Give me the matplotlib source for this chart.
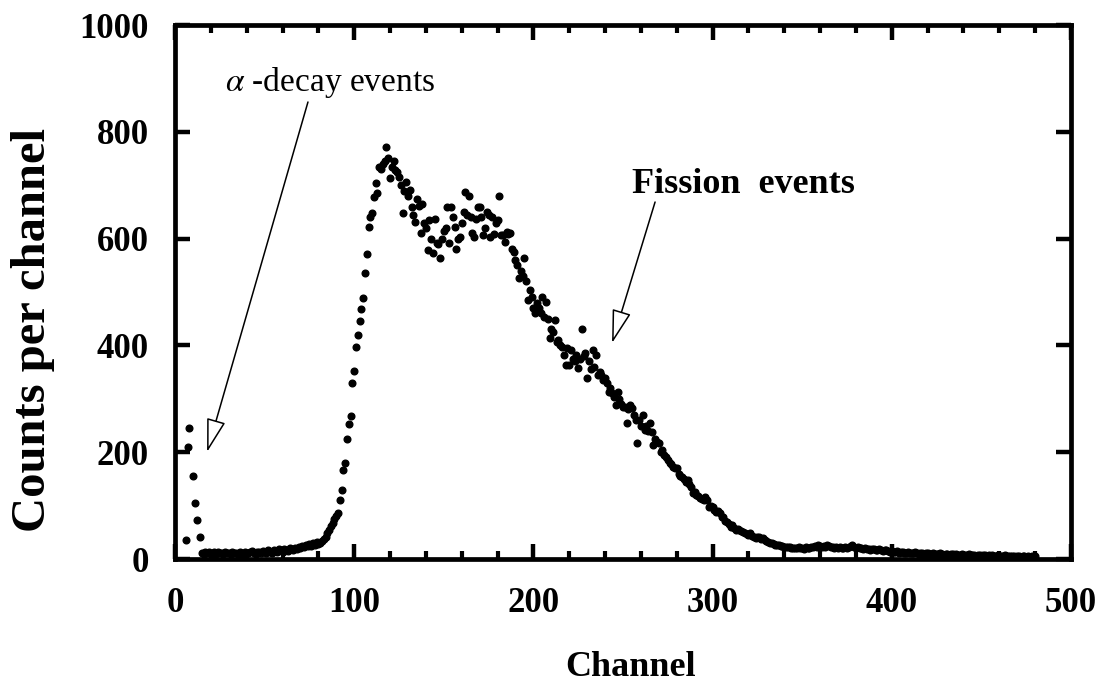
import numpy as np
import matplotlib
matplotlib.use("Agg")
import matplotlib.pyplot as plt
from matplotlib.patches import FancyArrowPatch
from matplotlib.ticker import MultipleLocator

plt.rcParams['font.family'] = ['Liberation Serif', 'DejaVu Serif']
plt.rcParams['mathtext.fontset'] = 'stix'

# ---- data ----
alpha_channels = [6, 7, 8, 10, 11, 12, 14]
alpha_counts = [36, 210, 245, 155, 105, 73, 41]

base_start = 15
base_counts = [12, 10, 14, 11, 13, 9, 12, 14, 10, 13, 11, 12, 9, 13, 11, 12, 10, 14, 11, 12,
               9, 13, 12, 10, 14, 12, 11, 13, 15, 12, 10, 14, 13, 11, 15, 13, 12, 16, 14, 12,
               17, 15, 13, 18, 16, 14, 19, 17, 15, 20, 18, 16, 21, 19, 22, 20, 24, 22, 26, 24,
               28, 25, 30, 27, 32]

fission_start = 80
fission_counts = [28, 30, 33, 38, 41, 48, 55, 62, 67, 75, 80, 86, 110, 130, 167, 180, 225, 253, 268, 330,
                  352, 397, 419, 446, 468, 489, 536, 571, 622, 640,
                  648, 678, 704, 686, 734, 730, 740, 745, 771, 751,
                  713, 735, 745, 728, 725, 715, 700, 648, 690, 706,
                  680, 691, 660, 645, 631, 674, 661, 610, 665, 630,
                  620, 579, 635, 600, 573, 637, 592, 590, 564, 600,
                  614, 620, 659, 592, 660, 640, 622, 580, 600, 603,
                  630, 650, 687, 644, 680, 640, 610, 603, 637, 660,
                  659, 640, 607, 620, 650, 645, 603, 640, 608, 630,
                  635, 680, 607, 607, 594, 612, 608, 610, 581, 575,
                  560, 551, 526, 540, 530, 564, 520, 485, 504, 490,
                  470, 461, 479, 470, 460, 491, 453, 481, 450, 414,
                  430, 425, 448, 406, 410, 400, 397, 382, 363, 395,
                  363, 391, 375, 370, 382, 358, 375, 431, 380, 386,
                  339, 370, 356, 391, 360, 382, 345, 350, 345, 335,
                  339, 330, 313, 320, 310, 303, 288, 313, 300, 290,
                  285, 285, 255, 280, 288, 283, 270, 260, 217, 260,
                  250, 270, 242, 250, 240, 255, 238, 213, 225, 220,
                  217, 200, 205, 195, 191, 185, 180, 178, 172, 170,
                  170, 160, 155, 154, 150, 145, 148, 140, 135, 124,
                  125, 120, 118, 114, 112, 110, 116, 110, 97, 100,
                  97, 92, 88, 90, 86, 79, 78, 72, 70, 65,
                  60, 64, 58, 54, 56, 55, 52, 51, 48, 47,
                  45, 48, 44, 42, 40, 41, 41, 38, 39, 35,
                  33, 32, 30, 30, 28, 27, 26, 26, 24, 24,
                  23, 22, 22, 22, 21, 21]

tail_start = 346
tail_counts = [21, 20, 22, 20, 21, 19, 22, 20, 21, 23, 22, 24, 23, 26, 24, 22, 25, 23, 26, 24,
               22, 23, 21, 22, 20, 22, 21, 20, 23, 21, 22, 24, 26, 23, 21, 22, 20, 21, 19, 20,
               18, 19, 17, 18, 19, 17, 16, 18, 17, 15, 16, 17, 15, 14, 15,
               14, 13, 15, 12, 13, 14, 12, 11, 13, 12, 11, 12, 13, 11, 10, 12, 11, 10, 11, 12,
               10, 9, 11, 10, 9, 10, 11, 9, 8, 10, 9, 8, 9, 10, 8, 9, 8, 7, 9, 8,
               7, 8, 9, 7, 8, 7, 6, 8, 7, 6, 7, 8, 6, 7, 6, 7, 6, 5, 7, 6,
               5, 6, 7, 5, 6, 5, 6, 5, 4, 6, 5, 4, 5, 6, 4, 5, 4, 5, 4, 5]

x_ticks = [0, 100, 200, 300, 400, 500]
y_ticks = [0, 200, 400, 600, 800, 1000]

channels = np.concatenate([
    np.array(alpha_channels),
    base_start + np.arange(len(base_counts)),
    fission_start + np.arange(len(fission_counts)),
    tail_start + np.arange(len(tail_counts)),
])
counts = np.concatenate([alpha_counts, base_counts, fission_counts, tail_counts])

# ---- figure ----
W, H = 1102, 688
fig = plt.figure(figsize=(W / 100, H / 100), dpi=100)
ax = fig.add_axes([175 / W, 1 - 559 / H, (1071 - 175) / W, (559 - 25) / H])

ax.plot(channels, counts, linestyle='none', marker='o', ms=4.8, color='black', mec='black')

ax.set_xlim(0, 500)
ax.set_ylim(0, 1000)
ax.set_xticks(x_ticks)
ax.set_yticks(y_ticks)
ax.xaxis.set_minor_locator(MultipleLocator(20))

for s in ax.spines.values():
    s.set_linewidth(3.4)

ax.tick_params(axis='both', which='both', direction='in', top=True, right=True, color='black')
ax.tick_params(axis='both', which='major', length=11, width=3.2)
ax.tick_params(axis='x', which='minor', length=5.5, width=3.0)
ax.tick_params(axis='x', which='major', pad=20)
ax.tick_params(axis='y', which='major', pad=19)
for lab in ax.get_xticklabels() + ax.get_yticklabels():
    lab.set_fontsize(25)
    lab.set_fontweight('bold')

fig.text(631 / W, 1 - 667 / H, 'Channel', fontsize=26, fontweight='bold', ha='center', va='center')
fig.text(33 / W, 1 - 330 / H, 'Counts per channel', fontsize=35, fontweight='bold',
         ha='center', va='center', rotation=90)

# annotations
ax.text(28, 876, r'$\alpha$ -decay events', fontsize=24, ha='left', va='baseline')
ax.text(255, 685, 'Fission  events', fontsize=26, fontweight='bold', ha='left', va='baseline')

style = "-|>,head_length=21,head_width=6"
for tail, tip in [((74.2, 855.8), (17.9, 200.4)), ((267.9, 668.5), (243.9, 404.5))]:
    arr = FancyArrowPatch(tail, tip, arrowstyle=style, mutation_scale=1,
                          lw=1.1, ec='black', fc='white', shrinkA=0, shrinkB=0, zorder=5)
    ax.add_patch(arr)

fig.savefig('out.png', dpi=100)
